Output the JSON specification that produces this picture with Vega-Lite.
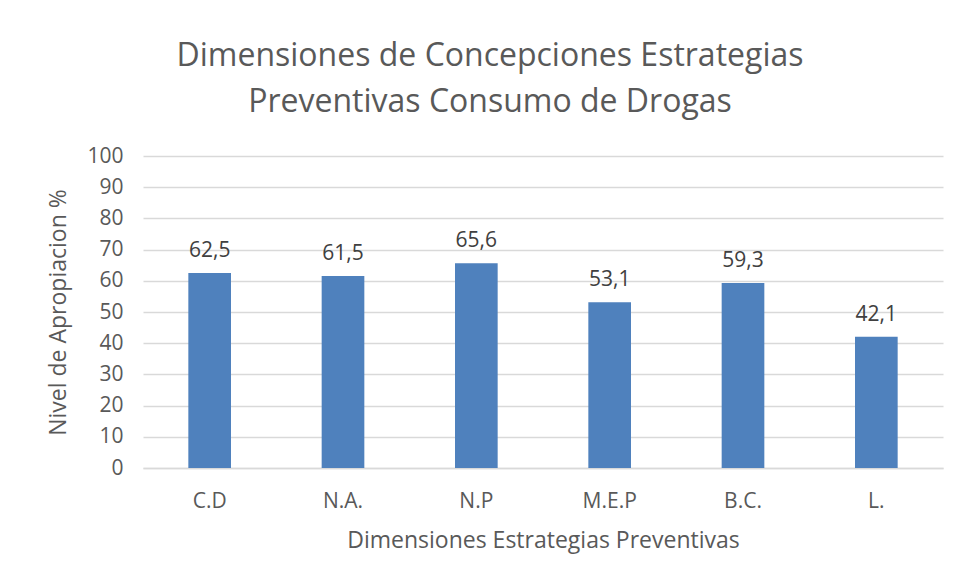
{
  "$schema": "https://vega.github.io/schema/vega-lite/v6.json",
  "autosize": "none",
  "width": 800,
  "height": 312,
  "padding": {"left": 143, "top": 156, "right": 13, "bottom": 115},
  "background": "white",
  "data": {
    "values": [
      {"dim": "C.D", "valor": 62.5},
      {"dim": "N.A.", "valor": 61.5},
      {"dim": "N.P", "valor": 65.6},
      {"dim": "M.E.P", "valor": 53.1},
      {"dim": "B.C.", "valor": 59.3},
      {"dim": "L.", "valor": 42.1}
    ]
  },
  "title": {
    "text": ["Dimensiones de Concepciones Estrategias", "Preventivas Consumo de Drogas"],
    "fontSize": 32,
    "font": "Open Sans",
    "fontWeight": "normal",
    "color": "#595959",
    "lineHeight": 46,
    "dx": -53,
    "offset": 26,
    "anchor": "middle"
  },
  "config": {
    "locale": {"number": {"decimal": ",", "thousands": ".", "grouping": [3], "currency": ["", " €"]}},
    "view": {"stroke": null},
    "font": "Open Sans"
  },
  "encoding": {
    "x": {
      "field": "dim",
      "type": "nominal",
      "sort": null,
      "scale": {"paddingInner": 0.68, "paddingOuter": 0.34},
      "axis": {
        "title": "Dimensiones Estrategias Preventivas",
        "titleFontSize": 23,
        "titleFontWeight": "normal",
        "titleColor": "#595959",
        "titlePadding": 18,
        "labelFontSize": 21,
        "labelColor": "#595959",
        "labelAngle": 0,
        "labelPadding": 22,
        "ticks": false,
        "domainColor": "#D9D9D9",
        "domainWidth": 1.5
      }
    },
    "y": {
      "field": "valor",
      "type": "quantitative",
      "scale": {"domain": [0, 100], "nice": false},
      "axis": {
        "title": "Nivel de Apropiacion %",
        "titleFontSize": 23,
        "titleFontWeight": "normal",
        "titleColor": "#595959",
        "titlePadding": 16,
        "labelFontSize": 21,
        "labelColor": "#595959",
        "labelPadding": 20,
        "labelOverlap": false,
        "tickCount": 10,
        "grid": true,
        "ticks": false,
        "domain": false,
        "gridColor": "#D9D9D9",
        "gridWidth": 1.5
      }
    }
  },
  "layer": [
    {
      "mark": {"type": "bar", "color": "#4F81BD"}
    },
    {
      "mark": {"type": "text", "dy": -12, "baseline": "bottom", "fontSize": 21, "color": "#404040"},
      "encoding": {
        "text": {"field": "valor", "type": "quantitative", "format": ".1f"}
      }
    }
  ]
}
